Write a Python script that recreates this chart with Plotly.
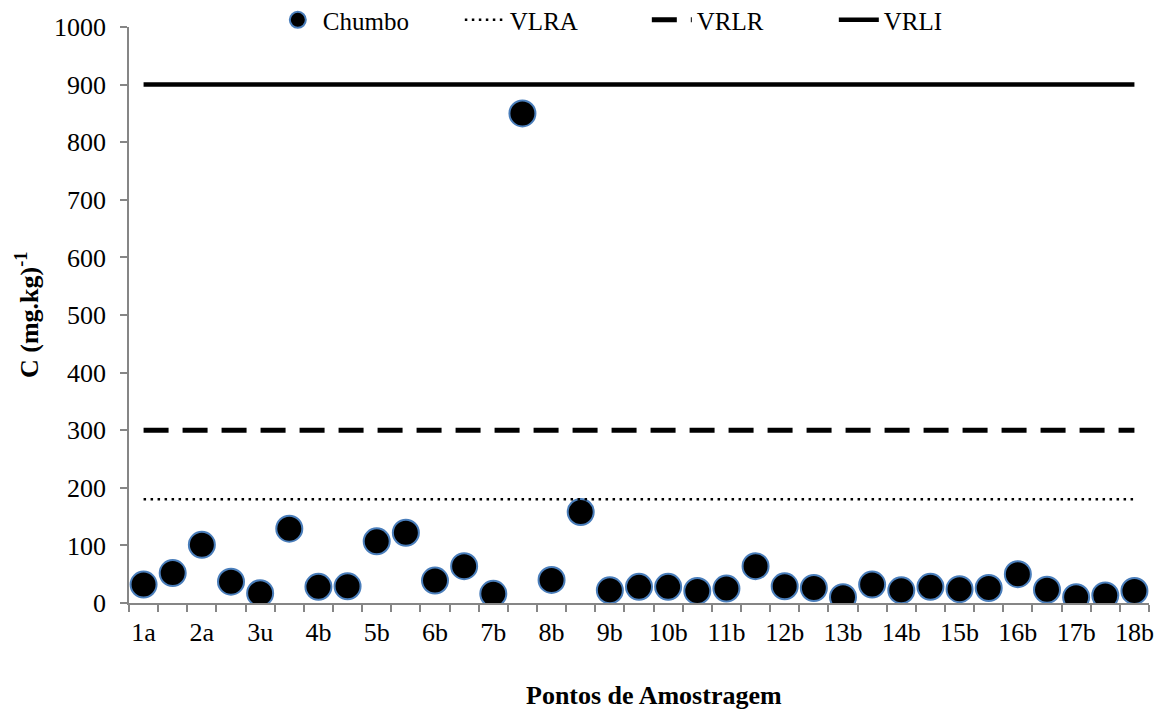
import plotly.graph_objects as go

# Sample points (35), only every other one is labelled on the axis
tick_labels = ["1a", "2a", "3u", "4b", "5b", "6b", "7b", "8b", "9b",
               "10b", "11b", "12b", "13b", "14b", "15b", "16b", "17b", "18b"]
chumbo = [32, 52, 101, 37, 17, 129, 28, 29, 107, 122, 39, 64, 16, 850,
          40, 158, 22, 28, 28, 21, 25, 64, 29, 26, 10, 32, 22, 28, 24, 26,
          50, 23, 10, 13, 21]
vlra = 180
vrlr = 300
vrli = 900

n = len(chumbo)
xs = list(range(n))
tickvals = xs[::2]

FONT = "Liberation Serif, Times New Roman, serif"
AX = "#868686"

fig = go.Figure()
fig.add_trace(go.Scatter(
    x=xs, y=chumbo, mode="markers", name="Chumbo",
    marker=dict(color="black", size=26, line=dict(color="#4a7ebb", width=2)),
))
fig.add_trace(go.Scatter(
    x=xs, y=[vlra] * n, mode="lines", name="VLRA",
    line=dict(color="black", width=2.5, dash="2.5px,4.5px"),
))
fig.add_trace(go.Scatter(
    x=xs, y=[vrlr] * n, mode="lines", name="VRLR",
    line=dict(color="black", width=5, dash="25px,14px"),
))
fig.add_trace(go.Scatter(
    x=xs, y=[vrli] * n, mode="lines", name="VRLI",
    line=dict(color="black", width=4.5),
))

fig.update_layout(
    width=1156, height=704,
    margin=dict(l=121, r=15, t=19, b=109, autoexpand=False),
    paper_bgcolor="white", plot_bgcolor="white",
    font=dict(family=FONT, size=26, color="black"),
    showlegend=True,
    legend=dict(orientation="h", x=0.141, xanchor="left", y=1.012,
                yanchor="middle", font=dict(size=25), bgcolor="rgba(0,0,0,0)",
                entrywidth=132, itemwidth=40),
    xaxis=dict(
        range=[-0.5, n - 0.5], tickmode="array", tickvals=tickvals,
        ticktext=tick_labels, ticks="", showgrid=False, zeroline=False,
        showline=True, linecolor=AX, linewidth=1.5,
        ticklabelstandoff=5,
        minor=dict(tickmode="linear", tick0=-0.5, dtick=1, ticks="outside",
                   ticklen=7, tickcolor=AX, tickwidth=1.5, showgrid=False),
    ),
    yaxis=dict(
        range=[0, 1000], dtick=100, tick0=0, ticks="outside", ticklen=7,
        tickcolor=AX, tickwidth=1.5, showgrid=False, zeroline=False,
        showline=True, linecolor=AX, linewidth=1.5, ticklabelstandoff=9,
    ),
)

fig.add_annotation(
    text="<b>Pontos de Amostragem</b>", xref="paper", yref="paper",
    x=0.515, y=-0.16, yanchor="middle", showarrow=False,
    font=dict(family=FONT, size=26),
)
fig.add_annotation(
    text="<b>C (mg.kg)<sup>-1</sup></b>", xref="paper", yref="paper",
    x=-0.1, xanchor="center", y=0.5, yanchor="middle", textangle=-90,
    showarrow=False, font=dict(family=FONT, size=26),
)

fig.write_html("out.html")
